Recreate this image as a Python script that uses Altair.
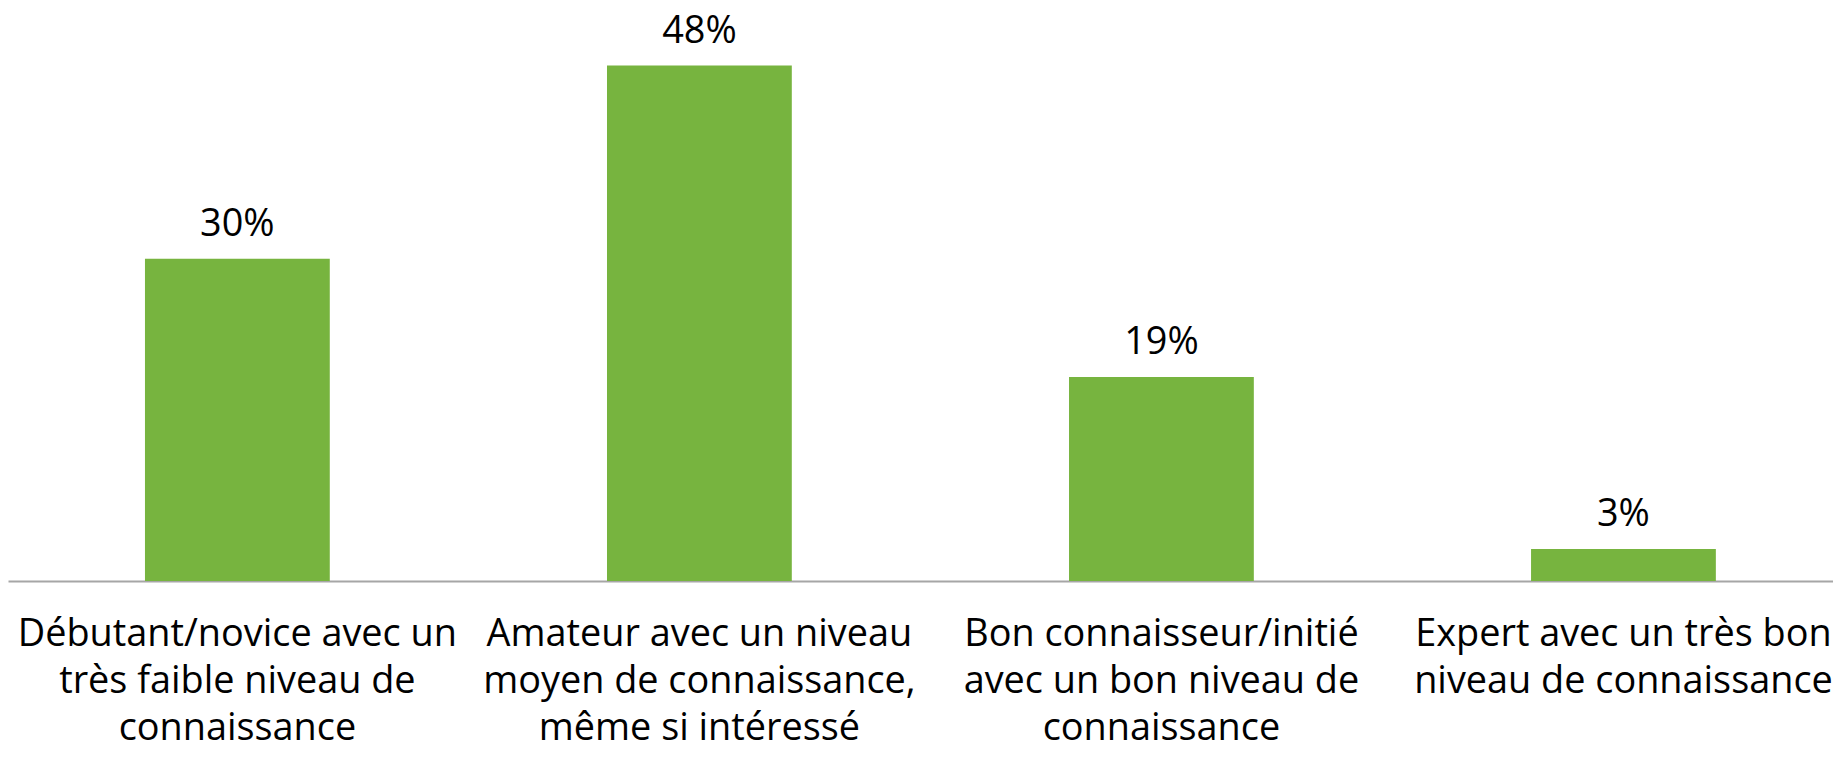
import altair as alt
import pandas as pd

categories = [
    "Débutant/novice avec un\ntrès faible niveau de\nconnaissance",
    "Amateur avec un niveau\nmoyen de connaissance,\nmême si intéressé",
    "Bon connaisseur/initié\navec un bon niveau de\nconnaissance",
    "Expert avec un très bon\nniveau de connaissance",
]
values = [30, 48, 19, 3]

df = pd.DataFrame({"cat": categories, "v": values})

FONT = "Open Sans"
GREEN = "#77b43f"

base = alt.Chart(df).encode(
    x=alt.X(
        "cat:N",
        sort=categories,
        scale=alt.Scale(paddingInner=0.6, paddingOuter=0.275, align=0.539),
        axis=alt.Axis(
            title=None,
            labelExpr="split(datum.label, '\\n')",
            labelAngle=0,
            labelFont=FONT,
            labelFontSize=38,
            labelColor="black",
            labelLineHeight=47,
            labelLimit=0,
            labelOverlap=False,
            labelFlush=False,
            labelPadding=35,
            ticks=False,
            domainColor="#a6a6a6",
            domainWidth=2,
            grid=False,
        ),
    ),
    y=alt.Y("v:Q", scale=alt.Scale(domain=[0, 53.2], nice=False), axis=None),
)

bars = base.mark_bar(color=GREEN)
labels = base.transform_calculate(lbl="datum.v + '%'").mark_text(
    font=FONT, fontSize=38, color="black", baseline="alphabetic", dy=-23
).encode(text="lbl:N")

chart = (
    (bars + labels)
    .properties(
        width=1833,
        height=741,
        padding=0,
        autosize=alt.AutoSizeParams(type="fit", contains="padding"),
    )
    .configure_view(stroke=None)
)

chart.save("out.html", embed_options={"renderer": "svg", "actions": False})
